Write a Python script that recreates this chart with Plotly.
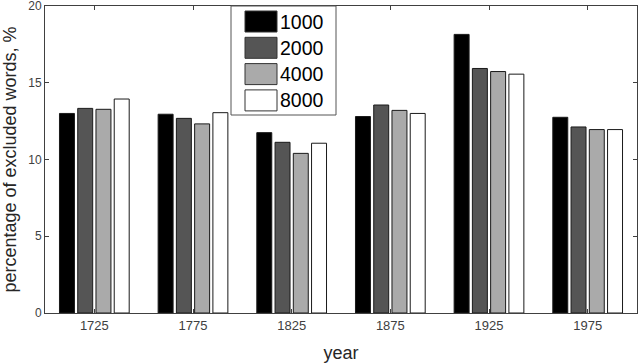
import plotly.graph_objects as go

years = ["1725", "1775", "1825", "1875", "1925", "1975"]
vocab = ["1000", "2000", "4000", "8000"]
pct_1000 = [13.0, 12.95, 11.75, 12.8, 18.15, 12.75]
pct_2000 = [13.33, 12.68, 11.12, 13.55, 15.93, 12.12]
pct_4000 = [13.27, 12.32, 10.4, 13.2, 15.73, 11.95]
pct_8000 = [13.94, 13.05, 11.06, 13.0, 15.56, 11.95]

colors = ["#000000", "#555555", "#aaaaaa", "#ffffff"]
series = [pct_1000, pct_2000, pct_4000, pct_8000]

W, H = 640, 363
L, R, T, B = 45, 3, 6, 50
pw, ph = W - L - R, H - T - B

def px_x(x):  # pixel -> paper x
    return (x - L) / pw

def px_y(y):  # pixel -> paper y
    return (H - B - y) / ph

fig = go.Figure()
for name, vals, col in zip(vocab, series, colors):
    fig.add_trace(go.Bar(x=years, y=vals, name=name, marker_color=col,
                         marker_line=dict(color="#1a1a1a", width=1), showlegend=False))

# hand-drawn MATLAB style legend box
shapes = [dict(type="rect", xref="paper", yref="paper",
               x0=px_x(231), x1=px_x(336), y0=px_y(115), y1=px_y(6),
               line=dict(color="#555555", width=1), fillcolor="white", layer="above")]
annots = []
for i, (name, col) in enumerate(zip(vocab, colors)):
    top = 11 + i * 26.3
    shapes.append(dict(type="rect", xref="paper", yref="paper",
                       x0=px_x(245), x1=px_x(277), y0=px_y(top + 21), y1=px_y(top),
                       line=dict(color="#333333", width=1), fillcolor=col, layer="above"))
    annots.append(dict(text=name, xref="paper", yref="paper", x=px_x(278),
                       y=px_y(top + 10.5), xanchor="left", yanchor="middle", showarrow=False,
                       font=dict(size=19.5, color="black")))

fig.update_layout(
    width=W, height=H,
    margin=dict(l=L, r=R, t=T, b=B),
    plot_bgcolor="white", paper_bgcolor="white",
    barmode="group", bargap=0.26, bargroupgap=0.18,
    font=dict(family="Liberation Sans, Arial", color="#262626"),
    showlegend=False,
    shapes=shapes, annotations=annots,
)
fig.update_xaxes(type="category", range=[-0.5, 5.5], showline=True, mirror="allticks",
                 linecolor="#404040", linewidth=1, ticks="inside", ticklen=4,
                 tickcolor="#404040", automargin=False,
                 tickfont=dict(family="Liberation Sans, Arial", size=13, color="#404040"),
                 title=dict(text="year", font=dict(size=18, color="#262626"), standoff=14))
fig.update_yaxes(range=[0, 20], tickvals=[0, 5, 10, 15, 20], showline=True, mirror="allticks",
                 linecolor="#404040", linewidth=1, ticks="inside", ticklen=4,
                 tickcolor="#404040", showgrid=False, zeroline=False,
                 automargin=False, ticklabeloverflow="allow",
                 tickfont=dict(family="Liberation Sans, Arial", size=12, color="#404040"),
                 title=dict(text="percentage of excluded words, %",
                            font=dict(size=18, color="#262626"), standoff=6))

fig.write_html("out.html", config={"displayModeBar": False},
               post_script="document.body.style.margin='0';")
